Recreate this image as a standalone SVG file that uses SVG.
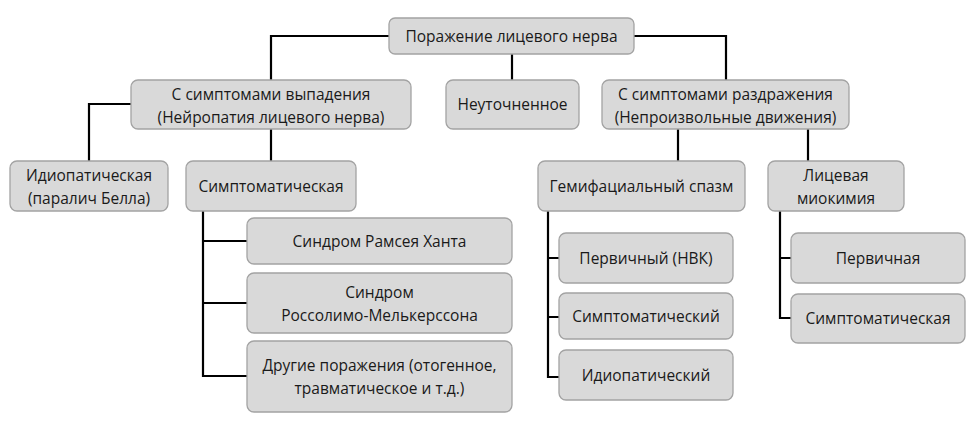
<svg xmlns="http://www.w3.org/2000/svg" width="973" height="425" viewBox="0 0 973 425">
<style>
.box{fill:#d9d9d9;stroke:#a3a3a3;stroke-width:1.3}
.t{font-family:"Open Sans","Noto Sans","DejaVu Sans",sans-serif;font-size:15.5px;fill:#1a1a1a;text-anchor:middle}
.c{fill:none;stroke:#000;stroke-width:2.2}
</style>
<rect width="973" height="425" fill="#fff"/>
<g id="connectors">
<path class="c" d="M389,36 H271 V80"/>
<path class="c" d="M512,54 V80"/>
<path class="c" d="M634,36 H726 V80"/>
<path class="c" d="M131,104 H89 V161"/>
<path class="c" d="M271,129 V161"/>
<path class="c" d="M678,129 V161"/>
<path class="c" d="M808,129 V161"/>
<path class="c" d="M203,211 V376 H247 M203,241 H247 M203,303 H247"/>
<path class="c" d="M548,211 V377 H559 M548,258 H559 M548,317 H559"/>
<path class="c" d="M780,211 V318 H791 M780,258 H791"/>
</g>
<g id="root"><rect class="box" x="389" y="18" width="245" height="36" rx="6"/><text class="t" x="511.5" y="41.5">Поражение лицевого нерва</text></g>
<g id="loss"><rect class="box" x="131" y="80" width="280" height="49" rx="7"/><text class="t" x="271" y="99.5">С симптомами выпадения</text><text class="t" x="271" y="122.5">(Нейропатия лицевого нерва)</text></g>
<g id="unspecified"><rect class="box" x="446" y="80" width="133" height="49" rx="7"/><text class="t" x="512.5" y="109.5">Неуточненное</text></g>
<g id="irritation"><rect class="box" x="602" y="80" width="247" height="49" rx="7"/><text class="t" x="725.5" y="99.5">С симптомами раздражения</text><text class="t" x="725.5" y="122.5">(Непроизвольные движения)</text></g>
<g id="idiopathic"><rect class="box" x="10" y="161" width="158" height="50" rx="7"/><text class="t" x="89" y="180.5">Идиопатическая</text><text class="t" x="89" y="203.5">(паралич Белла)</text></g>
<g id="symptomatic"><rect class="box" x="186" y="161" width="170" height="50" rx="7"/><text class="t" x="271" y="191.5">Симптоматическая</text></g>
<g id="hemifacial"><rect class="box" x="538" y="161" width="207" height="50" rx="7"/><text class="t" x="641.5" y="191.5">Гемифациальный спазм</text></g>
<g id="myokymia"><rect class="box" x="768" y="161" width="136" height="50" rx="7"/><text class="t" x="836" y="180.5">Лицевая</text><text class="t" x="836" y="203.5">миокимия</text></g>
<g id="ramsay"><rect class="box" x="247" y="218" width="265" height="46" rx="7"/><text class="t" x="379.5" y="246.5">Синдром Рамсея Ханта</text></g>
<g id="rossolimo"><rect class="box" x="247" y="273" width="265" height="60" rx="7"/><text class="t" x="379.5" y="297.5">Синдром</text><text class="t" x="379.5" y="320.5">Россолимо-Мелькерссона</text></g>
<g id="other"><rect class="box" x="247" y="341" width="265" height="71" rx="7"/><text class="t" x="379.5" y="370.5">Другие поражения (отогенное,</text><text class="t" x="379.5" y="393.5">травматическое и т.д.)</text></g>
<g id="primary-nvk"><rect class="box" x="559" y="233" width="174" height="50" rx="7"/><text class="t" x="646" y="263.5">Первичный (НВК)</text></g>
<g id="symptomatic-hs"><rect class="box" x="559" y="293" width="174" height="46" rx="7"/><text class="t" x="646" y="321.5">Симптоматический</text></g>
<g id="idiopathic-hs"><rect class="box" x="559" y="350" width="174" height="50" rx="7"/><text class="t" x="646" y="380.5">Идиопатический</text></g>
<g id="primary-m"><rect class="box" x="791" y="233" width="174" height="50" rx="7"/><text class="t" x="878" y="263.5">Первичная</text></g>
<g id="symptomatic-m"><rect class="box" x="791" y="294" width="174" height="49" rx="7"/><text class="t" x="878" y="323.5">Симптоматическая</text></g>
</svg>
